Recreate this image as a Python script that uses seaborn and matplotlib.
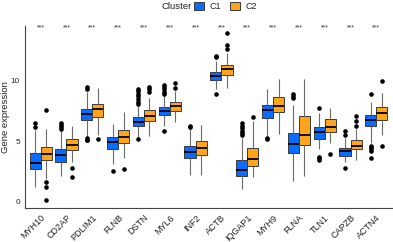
# -------------------------------------------------------------
# Boxplot of gene expression by cluster (C1 vs C2)
# -------------------------------------------------------------
import numpy as np
import pandas as pd
import matplotlib
matplotlib.use("Agg")
import matplotlib.pyplot as plt
import seaborn as sns

# 1) Values -----------------------------------------------------
genes = ["MYH10", "CD2AP", "PDLIM1", "FLNB", "DSTN", "MYL6", "INF2",
         "ACTB", "IQGAP1", "MYH9", "FLNA", "TLN1", "CAPZB", "ACTN4"]
clusters = ["C1", "C2"]

# C1 five-number summaries
c1_lo  = [1.22, 2.16, 5.47, 3.15, 5.36, 6.30, 2.24, 9.30, 1.05, 5.47, 1.74, 4.37, 3.34, 4.85]
c1_q1  = [2.74, 3.32, 6.74, 4.40, 6.30, 7.19, 3.62, 10.04, 2.15, 6.94, 4.04, 5.22, 3.81, 6.24]
c1_med = [3.23, 3.84, 7.27, 4.97, 6.63, 7.52, 4.09, 10.39, 2.65, 7.63, 4.78, 5.78, 4.23, 6.77]
c1_q3  = [4.06, 4.37, 7.69, 5.40, 7.00, 7.88, 4.59, 10.77, 3.45, 7.99, 5.69, 6.16, 4.42, 7.19]
c1_hi  = [5.95, 5.83, 9.05, 6.44, 7.90, 8.79, 6.00, 11.63, 5.25, 9.35, 8.04, 7.35, 5.25, 8.24]
c1_out = [[6.2, 6.5], [6.0, 6.2, 6.4, 6.5], [5.1, 5.15, 5.25, 9.3, 9.5], [2.57],
          [5.2, 8.1, 8.3, 8.5, 8.72, 8.93, 9.16, 9.35], [5.83, 8.95, 9.1, 9.3, 9.5, 9.7],
          [6.2, 6.3], [8.9, 11.95, 12.1], [5.5, 5.7, 5.9, 6.1, 6.3, 6.55],
          [5.2, 5.3], [8.55, 8.75, 8.96], [3.5, 3.65, 3.75, 7.77], [2.79, 5.5, 5.83],
          [3.67, 4.25, 4.35, 4.5, 4.65, 8.96]]

# C2 five-number summaries
c2_lo  = [1.88, 3.34, 5.56, 3.62, 5.47, 6.60, 2.20, 9.43, 2.05, 5.64, 2.18, 4.86, 3.48, 5.56]
c2_q1  = [3.43, 4.31, 7.00, 4.86, 6.69, 7.55, 3.90, 10.53, 2.93, 7.41, 4.67, 5.78, 4.37, 6.80]
c2_med = [3.93, 4.67, 7.69, 5.36, 7.13, 7.90, 4.45, 10.95, 3.54, 7.90, 5.56, 6.16, 4.64, 7.35]
c2_q3  = [4.53, 5.20, 8.12, 5.97, 7.57, 8.24, 5.06, 11.30, 4.48, 8.68, 7.08, 6.86, 5.08, 7.82]
c2_hi  = [6.03, 6.24, 9.43, 7.43, 8.60, 9.20, 6.38, 12.33, 6.70, 10.17, 10.20, 7.77, 6.00, 9.00]
c2_out = [[0.14, 1.24, 1.66, 7.57], [2.07, 2.82], [5.2], [2.71], [9.1, 9.3, 9.5],
          [9.45, 9.84], [], [12.6, 12.99, 13.93], [7.02], [], [], [4.0],
          [6.25, 6.66, 7.08], [4.64, 10.03]]

signif = ["***"] * len(genes)


def sample_from_stats(lo, q1, med, q3, hi, outs):
    # rebuild a small sample whose quartiles / whiskers / fliers match the summary
    low = sorted(v for v in outs if v < q1)
    high = sorted(v for v in outs if v > q3)
    m = max(len(low), len(high)) + 2
    part1 = low + [lo] + [q1] * (m - len(low) - 1)
    part2 = [q1] + [med] * (m - 1)
    part3 = [med] + [q3] * (m - 1)
    part4 = [q3] + [q3] * (m - len(high) - 2) + [hi] + high
    return part1 + part2 + part3 + part4


# 2) Long-form table -------------------------------------------
rows = []
for cl, lo_, q1_, md_, q3_, hi_, out_ in [
        ("C1", c1_lo, c1_q1, c1_med, c1_q3, c1_hi, c1_out),
        ("C2", c2_lo, c2_q1, c2_med, c2_q3, c2_hi, c2_out)]:
    for i, g in enumerate(genes):
        for v in sample_from_stats(lo_[i], q1_[i], md_[i], q3_[i], hi_[i], out_[i]):
            rows.append({"gene": g, "Cluster": cl, "value": v})
df = pd.DataFrame(rows)

# 3) Plot ------------------------------------------------------
sns.set_style("white")
plt.rcParams["font.family"] = ["Liberation Sans", "DejaVu Sans"]

fig = plt.figure(figsize=(3.93, 2.42), dpi=100)
ax = fig.add_axes([0.064, 0.1405, 0.933, 0.75])

palette = {"C1": "#0A6BFF", "C2": "#FFA51C"}
sns.boxplot(
    data=df, x="gene", y="value", hue="Cluster",
    order=genes, hue_order=clusters, palette=palette, saturation=1,
    width=0.86, gap=0, dodge=True,
    linecolor="#3a3a3a", linewidth=0.7, showcaps=False,
    whiskerprops=dict(color="#6a6a6a", linewidth=0.8),
    medianprops=dict(color="black", linewidth=1.3),
    flierprops=dict(marker="o", markerfacecolor="black",
                    markeredgecolor="black", markersize=2.3),
    legend=True, ax=ax
)

for i, s in enumerate(signif):
    ax.text(i, 14.35, s, ha="center", va="center", fontsize=5, color="#333333")

ax.set_xlim(-0.6, len(genes) - 0.4)
ax.set_ylim(-0.5, 14.5)
ax.set_yticks([0, 5, 10])
ax.set_xlabel("")
ax.set_ylabel("Gene expression", fontsize=6.8, color="#222222")
ax.yaxis.set_label_coords(-0.042, 0.5)
for side in ["top", "right"]:
    ax.spines[side].set_visible(False)
for side in ["left", "bottom"]:
    ax.spines[side].set_color("#444444")
    ax.spines[side].set_linewidth(0.8)
ax.tick_params(axis="both", length=2.2, width=0.6, color="#444444",
               labelsize=5.9, labelcolor="#222222", pad=1.5)
ax.tick_params(axis="x", labelsize=6.5)
plt.setp(ax.get_xticklabels(), rotation=45, ha="right", va="top",
         rotation_mode="anchor")

# legend: horizontal, title on the left
handles, labels = ax.get_legend_handles_labels()
ax.legend_.remove()
fig.legend(handles, labels, loc="center", bbox_to_anchor=(0.574, 0.973),
           ncol=2, frameon=False, fontsize=6.5, handlelength=1.1,
           handleheight=0.9, handletextpad=0.6, columnspacing=1.0)
fig.text(0.489, 0.973, "Cluster", ha="right", va="center", fontsize=6.8,
         color="#222222")

plt.savefig("out.png", dpi=100)
